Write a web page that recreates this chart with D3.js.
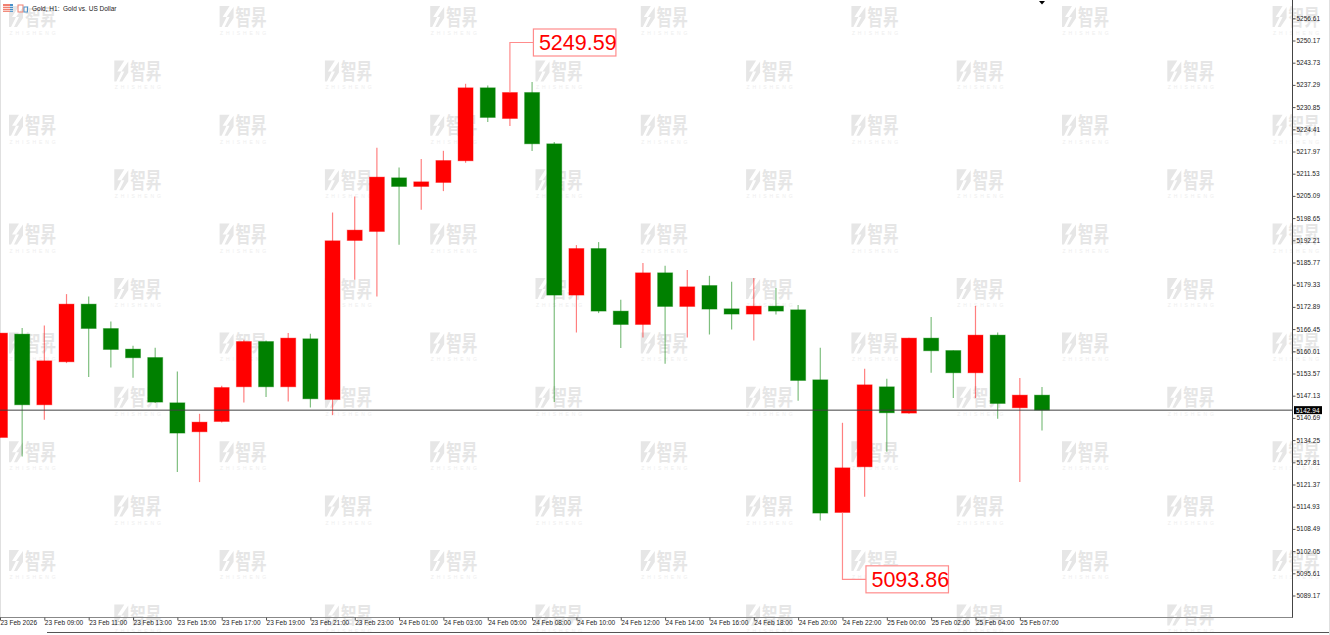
<!DOCTYPE html>
<html>
<head>
<meta charset="utf-8">
<style>
html, body { margin: 0; padding: 0; background: #fff; }
svg { display: block; }
text { font-family: "Liberation Sans", sans-serif; }
</style>
<script src="https://cdn.jsdelivr.net/npm/d3@7"></script>
</head>
<body>
<svg id="chart" width="1330" height="635"></svg>
<script>
var titleText = "Gold, H1:  Gold vs. US Dollar";
var closePrice = 5142.94;

// candles, one hour each
var opens = [5135.00, 5165.00, 5144.49, 5156.96, 5173.70, 5166.62, 5160.65, 5158.21, 5145.07, 5136.66, 5139.64, 5149.71,
    5162.85, 5149.71, 5163.64, 5146.03, 5192.15, 5194.76, 5210.34, 5207.82, 5208.98, 5215.27, 5236.45, 5227.54,
    5235.09, 5220.20, 5176.31, 5189.83, 5171.67, 5167.78, 5182.78, 5173.01, 5179.10, 5172.34, 5170.80, 5173.12,
    5172.05, 5151.74, 5113.25, 5126.50, 5149.71, 5142.08, 5163.84, 5160.24, 5153.77, 5164.71, 5143.62, 5147.30];
var highs = [5165.29, 5166.74, 5167.50, 5176.60, 5175.91, 5168.66, 5161.61, 5161.03, 5154.15, 5141.88, 5150.00, 5163.35,
    5163.14, 5165.29, 5165.09, 5200.27, 5204.92, 5219.04, 5213.33, 5215.77, 5218.17, 5237.61, 5237.12, 5235.09,
    5238.10, 5220.70, 5190.82, 5191.69, 5174.95, 5185.60, 5184.81, 5183.57, 5181.91, 5180.17, 5181.25, 5178.35,
    5173.41, 5161.03, 5139.27, 5154.93, 5152.03, 5163.93, 5169.93, 5160.24, 5173.21, 5165.46, 5152.23, 5149.62];
var lows = [5135.00, 5129.49, 5140.14, 5156.59, 5152.53, 5155.31, 5152.32, 5144.98, 5124.97, 5122.07, 5139.35, 5145.16,
    5146.73, 5145.45, 5143.71, 5141.50, 5180.75, 5175.91, 5190.90, 5201.06, 5206.48, 5214.69, 5226.50, 5225.34,
    5218.09, 5145.27, 5165.46, 5171.09, 5160.94, 5164.01, 5156.38, 5164.01, 5164.88, 5166.33, 5163.14, 5170.69,
    5145.65, 5110.93, 5113.25, 5117.80, 5130.85, 5141.88, 5153.77, 5146.43, 5146.43, 5140.43, 5122.07, 5137.03];
var closes = [5165.29, 5144.49, 5157.25, 5173.70, 5166.62, 5160.53, 5158.13, 5145.27, 5136.28, 5139.47, 5149.51, 5162.85,
    5149.71, 5163.84, 5146.23, 5192.07, 5195.17, 5210.55, 5207.82, 5209.18, 5215.36, 5236.45, 5227.84, 5235.09,
    5220.20, 5176.31, 5189.83, 5171.67, 5167.78, 5182.78, 5173.01, 5178.72, 5172.25, 5170.80, 5173.12, 5171.67,
    5151.54, 5113.07, 5126.21, 5150.29, 5142.17, 5163.84, 5160.16, 5153.77, 5164.71, 5144.87, 5147.30, 5142.94];

var priceTicks = [5256.61, 5250.17, 5243.73, 5237.29, 5230.85, 5224.41, 5217.97, 5211.53, 5205.09, 5198.65, 5192.21,
    5185.77, 5179.33, 5172.89, 5166.45, 5160.01, 5153.57, 5147.13, 5140.69, 5134.25, 5127.81, 5121.37, 5114.93,
    5108.49, 5102.05, 5095.61, 5089.17];
var timeTicks = [0, 2, 4, 6, 8, 10, 12, 14, 16, 18, 20, 22, 24, 26, 28, 30, 32, 34, 36, 38, 40, 42, 44, 46];
var timeLabels = ["23 Feb 2026", "23 Feb 09:00", "23 Feb 11:00", "23 Feb 13:00", "23 Feb 15:00", "23 Feb 17:00",
    "23 Feb 19:00", "23 Feb 21:00", "23 Feb 23:00", "24 Feb 01:00", "24 Feb 03:00", "24 Feb 05:00", "24 Feb 08:00",
    "24 Feb 10:00", "24 Feb 12:00", "24 Feb 14:00", "24 Feb 16:00", "24 Feb 18:00", "24 Feb 20:00", "24 Feb 22:00",
    "25 Feb 00:00", "25 Feb 02:00", "25 Feb 04:00", "25 Feb 07:00"];

// price callouts: bar index and value
var calloutBars = [23, 38];
var calloutPrices = [5249.59, 5093.86];

var red = "#ff0000", green = "#008000";
var candles = d3.range(opens.length);

var svg = d3.select("#chart");
var x = d3.scaleLinear().domain([0, 47]).range([0, 1042]);
var y = d3.scaleLinear().domain([5256.61, 5089.17]).range([18.3, 595.5]);

// watermark, staggered over the whole plot
var wmX = d3.range(13).map(function (i) { return 9 + 105.3 * i; });
var wmY = d3.range(12).map(function (i) { return 5 + 54.4 * i; });
var wm = svg.append("g").attr("fill", "#e6e6e6");
wmX.forEach(function (cx, i) {
    wmY.forEach(function (cy, j) {
        if (i % 2 != j % 2) return;
        var g = wm.append("g").attr("transform", "translate(" + cx + "," + cy + ")");
        g.append("path").attr("d", "M0,1H10L3,12H7L2,22H0Z M14,2V13L8,22H5L10,12H7Z");
        g.append("text").attr("transform", "translate(16,19.5) scale(1,1.4)")
            .style("font-family", "'Noto Sans CJK SC'").style("font-weight", 700)
            .style("font-size", "15.5px").text("智昇");
        g.append("text").attr("x", 0.5).attr("y", 30).attr("fill", "#eeeeee")
            .style("font-size", "5px").style("letter-spacing", "2.9px").text("ZHISHENG");
    });
});

// frame
svg.append("line").attr("x1", 0.5).attr("x2", 0.5).attr("y1", 0).attr("y2", 618).attr("stroke", "#e0e0e0");
svg.append("line").attr("x1", 1329.5).attr("x2", 1329.5).attr("y1", 0).attr("y2", 635).attr("stroke", "#e0e0e0");
svg.append("line").attr("x1", 47).attr("x2", 1329).attr("y1", 632.5).attr("y2", 632.5).attr("stroke", "#555");
svg.append("path").attr("d", "M1039,1H1045L1042,4.5Z").attr("fill", "#000");

// wicks
svg.append("g").selectAll("line").data(candles).join("line")
    .attr("x1", function (i) { return x(i); })
    .attr("x2", function (i) { return x(i); })
    .attr("y1", function (i) { return y(highs[i]); })
    .attr("y2", function (i) { return y(lows[i]); })
    .attr("stroke", function (i) { return closes[i] >= opens[i] ? red : green; })
    .attr("stroke-opacity", 0.5)
    .attr("stroke-width", 1.2);

// bodies
svg.append("g").selectAll("rect").data(candles).join("rect")
    .attr("x", function (i) { return x(i) - 7.5; })
    .attr("width", 15)
    .attr("y", function (i) { return y(Math.max(opens[i], closes[i])); })
    .attr("height", function (i) { return Math.abs(y(opens[i]) - y(closes[i])); })
    .attr("fill", function (i) { return closes[i] >= opens[i] ? red : green; })
    .attr("stroke", function (i) { return closes[i] >= opens[i] ? red : green; })
    .attr("stroke-opacity", 0.35)
    .attr("stroke-width", 1);

// last price line
svg.append("line").attr("x1", 0).attr("x2", 1292)
    .attr("y1", y(closePrice)).attr("y2", y(closePrice))
    .attr("stroke", "#404040");

// callouts
calloutBars.forEach(function (bar, i) {
    var up = calloutPrices[i] > closes[bar];
    var from = up ? y(Math.max(opens[bar], closes[bar])) : y(Math.min(opens[bar], closes[bar]));
    var bx = x(bar) + 23.5, by = y(calloutPrices[i]);
    svg.append("path")
        .attr("d", "M" + x(bar) + "," + from + "V" + by + "H" + bx)
        .attr("fill", "none").attr("stroke", "#ff8c8c").attr("stroke-width", 1.2);
    svg.append("rect").attr("x", bx).attr("y", by - 13.5).attr("width", 82.5).attr("height", 27)
        .attr("fill", "#fff").attr("stroke", "#ff8c8c").attr("stroke-width", 1.2);
    svg.append("text").attr("x", bx + 5.5).attr("y", by + 8)
        .attr("fill", red).style("font-size", "21.5px").text(calloutPrices[i].toFixed(2));
});

// axes
var yAxis = d3.axisRight(y).tickValues(priceTicks).tickFormat(d3.format(".2f")).tickSize(3).tickPadding(1);
var yG = svg.append("g").attr("transform", "translate(1292.5,0)").call(yAxis);
yG.select(".domain").attr("d", "M0,0V618");

var xAxis = d3.axisBottom(x).tickValues(timeTicks)
    .tickFormat(function (d) { return timeLabels[timeTicks.indexOf(d)]; }).tickSize(3).tickPadding(0);
var xG = svg.append("g").attr("transform", "translate(0,617.5)").call(xAxis);
xG.select(".domain").attr("d", "M0,0H1292.5");
xG.selectAll("text").attr("text-anchor", "start").attr("x", 0).attr("y", 3).attr("dy", "0.71em");

svg.selectAll(".tick text").style("font-size", "6.5px").style("font-family", "'Liberation Sans'").attr("fill", "#222");
svg.selectAll(".tick line").attr("stroke", "#555");
yG.select(".domain").attr("stroke", "#444");
xG.select(".domain").attr("stroke", "#888");

// last price tag
svg.append("rect").attr("x", 1294).attr("y", y(closePrice) - 4).attr("width", 28).attr("height", 8).attr("fill", "#000");
svg.append("text").attr("x", 1296).attr("y", y(closePrice) + 2.5).attr("fill", "#fff")
    .style("font-size", "6.5px").text(closePrice.toFixed(2));

// header icons and title
var head = svg.append("g");
head.append("rect").attr("x", 3).attr("y", 4).attr("width", 7).attr("height", 8).attr("fill", "#f08070");
head.append("rect").attr("x", 10).attr("y", 4).attr("width", 3).attr("height", 8).attr("fill", "#4a90c8");
d3.range(3).forEach(function (i) {
    head.append("rect").attr("x", 3).attr("y", 6 + i * 2.2).attr("width", 10).attr("height", 0.7).attr("fill", "#fff");
});
head.append("rect").attr("x", 18).attr("y", 5).attr("width", 5).attr("height", 7).attr("fill", "none").attr("stroke", "#f08070");
head.append("rect").attr("x", 24).attr("y", 7).attr("width", 3.5).attr("height", 5).attr("fill", "none").attr("stroke", "#4a90c8");
svg.append("text").attr("x", 32).attr("y", 10.5).attr("fill", "#222")
    .style("font-size", "6.5px").style("white-space", "pre").text(titleText);
</script>
</body>
</html>
